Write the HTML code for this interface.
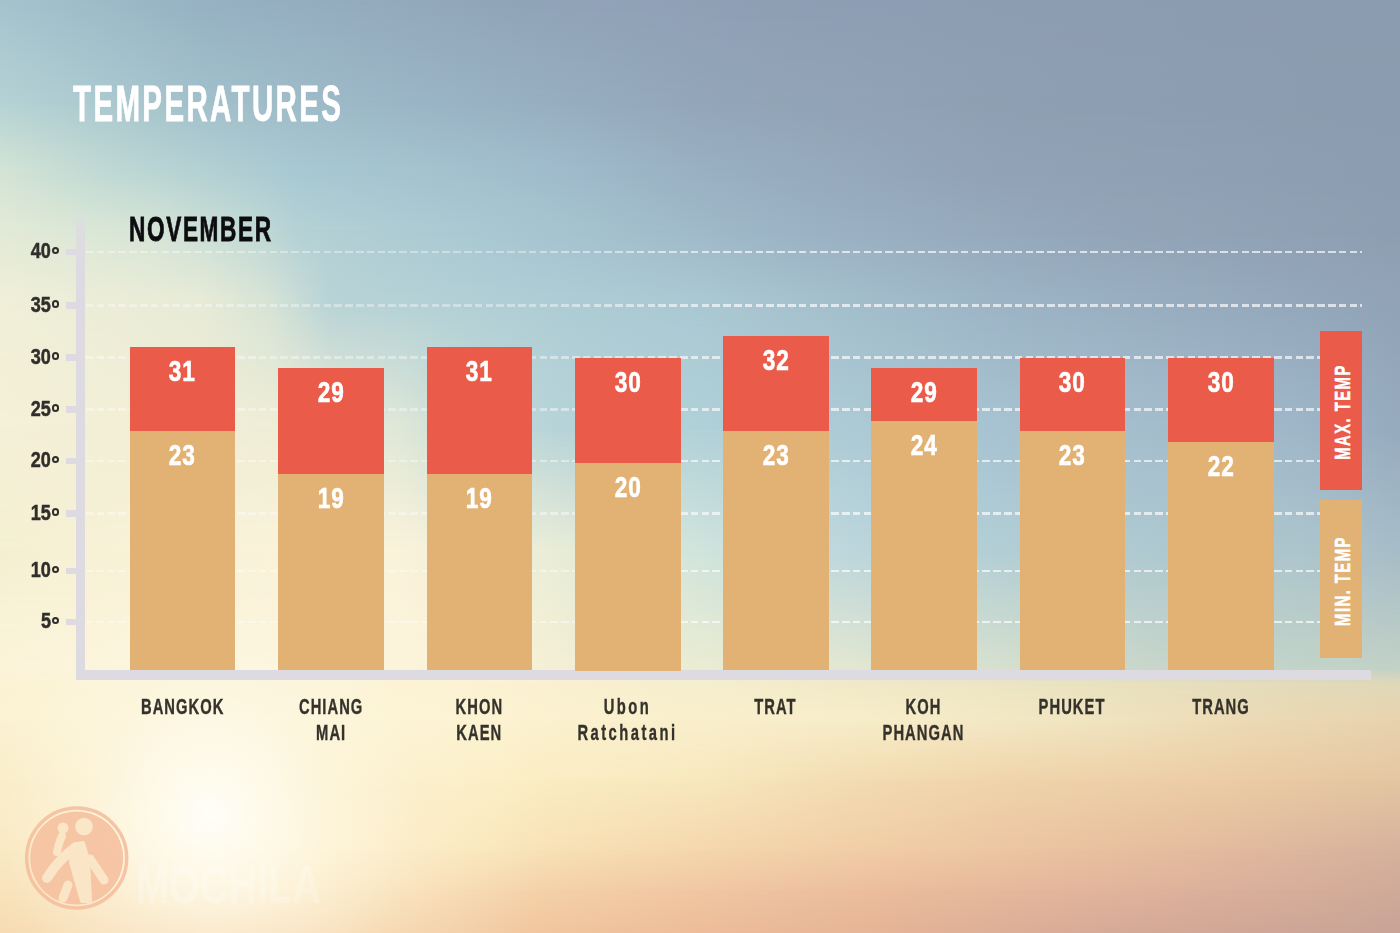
<!DOCTYPE html><html><head><meta charset="utf-8"><style>
html,body{margin:0;padding:0;}
body{width:1400px;height:933px;position:relative;overflow:hidden;font-family:"Liberation Sans",sans-serif;}
.bg{position:absolute;left:0;top:0;width:1400px;height:933px;}
.abs{position:absolute;}
.bar{position:absolute;}
.red{background:#ea5b49;}
.tan{background:#e2b274;}
.val{position:absolute;left:0;width:100%;text-align:center;color:#fff;font-weight:bold;font-size:29px;line-height:29px;-webkit-text-stroke:0.6px #fff;}
.val span{display:inline-block;transform:scaleX(0.78);letter-spacing:1px;}
.grid{position:absolute;left:86px;width:1276px;height:2.5px;-webkit-mask-image:linear-gradient(90deg,rgba(0,0,0,0.55) 0px,rgba(0,0,0,0.55) 420px,#000 650px);background:repeating-linear-gradient(90deg,rgba(255,255,255,0.66) 0 7.6px,transparent 7.6px 10.8px);}
.tick{position:absolute;left:65.5px;width:12px;height:6.5px;background:#dddbe1;}
.ylab{position:absolute;right:1349.5px;color:#2f2e2b;font-weight:bold;font-size:21.5px;line-height:21px;white-space:nowrap;-webkit-text-stroke:0.5px #2f2e2b;}
.ylab span{display:inline-block;transform-origin:100% 0;transform:scaleX(0.84);}
.deg{position:absolute;left:51.8px;width:3.6px;height:3.6px;border:2px solid #2f2e2b;border-radius:50%;}
.xlab{position:absolute;width:200px;text-align:center;color:#35322c;font-weight:bold;font-size:22.5px;line-height:25.5px;-webkit-text-stroke:0.4px #35322c;}
.xlab span{display:inline-block;transform:scaleX(0.655);letter-spacing:1.6px;}
.leg{position:absolute;left:-100px;top:-12px;width:200px;text-align:center;color:#fff;font-weight:bold;font-size:22.5px;line-height:24px;white-space:nowrap;-webkit-text-stroke:0.5px #fff;}
</style></head><body>

<div class="bg"><div style="position:absolute;left:0;top:0px;width:1400px;height:100.5px;background:linear-gradient(90deg,rgb(165, 195, 205) 0px,rgb(150, 178, 195) 200px,rgb(145, 165, 185) 500px,rgb(142, 158, 180) 800px,rgb(140, 155, 175) 1400px)"></div>
<div style="position:absolute;left:0;top:0px;width:1400px;height:100.5px;background:linear-gradient(90deg,rgb(180, 210, 212) 0px,rgb(162, 192, 203) 200px,rgb(153, 179, 196) 450px,rgb(147, 166, 185) 700px,rgb(143, 159, 179) 1000px,rgb(140, 156, 176) 1400px);-webkit-mask-image:linear-gradient(180deg,transparent,#000);mask-image:linear-gradient(180deg,transparent,#000)"></div>
<div style="position:absolute;left:0;top:100px;width:1400px;height:70.5px;background:linear-gradient(90deg,rgb(180, 210, 212) 0px,rgb(162, 192, 203) 200px,rgb(153, 179, 196) 450px,rgb(147, 166, 185) 700px,rgb(143, 159, 179) 1000px,rgb(140, 156, 176) 1400px)"></div>
<div style="position:absolute;left:0;top:100px;width:1400px;height:70.5px;background:linear-gradient(90deg,rgb(212, 228, 212) 0px,rgb(192, 217, 212) 100px,rgb(168, 200, 210) 300px,rgb(160, 188, 204) 550px,rgb(153, 176, 194) 700px,rgb(145, 162, 182) 1000px,rgb(141, 157, 177) 1400px);-webkit-mask-image:linear-gradient(180deg,transparent,#000);mask-image:linear-gradient(180deg,transparent,#000)"></div>
<div style="position:absolute;left:0;top:170px;width:1400px;height:60.5px;background:linear-gradient(90deg,rgb(212, 228, 212) 0px,rgb(192, 217, 212) 100px,rgb(168, 200, 210) 300px,rgb(160, 188, 204) 550px,rgb(153, 176, 194) 700px,rgb(145, 162, 182) 1000px,rgb(141, 157, 177) 1400px)"></div>
<div style="position:absolute;left:0;top:170px;width:1400px;height:60.5px;background:linear-gradient(90deg,rgb(226, 234, 214) 0px,rgb(214, 229, 214) 150px,rgb(194, 218, 214) 250px,rgb(180, 209, 213) 300px,rgb(166, 196, 208) 550px,rgb(155, 178, 196) 800px,rgb(147, 165, 184) 1100px,rgb(142, 158, 178) 1400px);-webkit-mask-image:linear-gradient(180deg,transparent,#000);mask-image:linear-gradient(180deg,transparent,#000)"></div>
<div style="position:absolute;left:0;top:230px;width:1400px;height:70.5px;background:linear-gradient(90deg,rgb(226, 234, 214) 0px,rgb(214, 229, 214) 150px,rgb(194, 218, 214) 250px,rgb(180, 209, 213) 300px,rgb(166, 196, 208) 550px,rgb(155, 178, 196) 800px,rgb(147, 165, 184) 1100px,rgb(142, 158, 178) 1400px)"></div>
<div style="position:absolute;left:0;top:230px;width:1400px;height:70.5px;background:linear-gradient(90deg,rgb(240, 239, 215) 0px,rgb(232, 235, 215) 200px,rgb(214, 227, 214) 270px,rgb(184, 211, 214) 330px,rgb(178, 208, 214) 450px,rgb(170, 200, 210) 700px,rgb(156, 180, 197) 1000px,rgb(145, 163, 183) 1400px);-webkit-mask-image:linear-gradient(180deg,transparent,#000);mask-image:linear-gradient(180deg,transparent,#000)"></div>
<div style="position:absolute;left:0;top:300px;width:1400px;height:125.5px;background:linear-gradient(90deg,rgb(240, 239, 215) 0px,rgb(232, 235, 215) 200px,rgb(214, 227, 214) 270px,rgb(184, 211, 214) 330px,rgb(178, 208, 214) 450px,rgb(170, 200, 210) 700px,rgb(156, 180, 197) 1000px,rgb(145, 163, 183) 1400px)"></div>
<div style="position:absolute;left:0;top:300px;width:1400px;height:125.5px;background:linear-gradient(90deg,rgb(245, 240, 215) 0px,rgb(238, 237, 214) 300px,rgb(222, 231, 215) 400px,rgb(196, 219, 216) 480px,rgb(182, 211, 216) 560px,rgb(176, 208, 216) 700px,rgb(172, 202, 213) 850px,rgb(167, 194, 209) 1000px,rgb(164, 189, 205) 1150px,rgb(158, 182, 200) 1300px,rgb(150, 170, 190) 1400px);-webkit-mask-image:linear-gradient(180deg,transparent,#000);mask-image:linear-gradient(180deg,transparent,#000)"></div>
<div style="position:absolute;left:0;top:425px;width:1400px;height:125.5px;background:linear-gradient(90deg,rgb(245, 240, 215) 0px,rgb(238, 237, 214) 300px,rgb(222, 231, 215) 400px,rgb(196, 219, 216) 480px,rgb(182, 211, 216) 560px,rgb(176, 208, 216) 700px,rgb(172, 202, 213) 850px,rgb(167, 194, 209) 1000px,rgb(164, 189, 205) 1150px,rgb(158, 182, 200) 1300px,rgb(150, 170, 190) 1400px)"></div>
<div style="position:absolute;left:0;top:425px;width:1400px;height:125.5px;background:linear-gradient(90deg,rgb(245, 240, 210) 0px,rgb(250, 242, 218) 400px,rgb(234, 237, 215) 550px,rgb(208, 228, 220) 700px,rgb(188, 214, 220) 850px,rgb(178, 206, 213) 1000px,rgb(174, 201, 208) 1150px,rgb(172, 197, 204) 1300px,rgb(166, 189, 200) 1400px);-webkit-mask-image:linear-gradient(180deg,transparent,#000);mask-image:linear-gradient(180deg,transparent,#000)"></div>
<div style="position:absolute;left:0;top:550px;width:1400px;height:118.5px;background:linear-gradient(90deg,rgb(245, 240, 210) 0px,rgb(250, 242, 218) 400px,rgb(234, 237, 215) 550px,rgb(208, 228, 220) 700px,rgb(188, 214, 220) 850px,rgb(178, 206, 213) 1000px,rgb(174, 201, 208) 1150px,rgb(172, 197, 204) 1300px,rgb(166, 189, 200) 1400px)"></div>
<div style="position:absolute;left:0;top:550px;width:1400px;height:118.5px;background:linear-gradient(90deg,rgb(250, 242, 215) 0px,rgb(250, 242, 215) 500px,rgb(242, 239, 212) 560px,rgb(235, 236, 210) 700px,rgb(226, 231, 209) 850px,rgb(214, 224, 206) 1000px,rgb(200, 214, 202) 1150px,rgb(194, 211, 200) 1300px,rgb(194, 209, 198) 1400px);-webkit-mask-image:linear-gradient(180deg,transparent,#000);mask-image:linear-gradient(180deg,transparent,#000)"></div>
<div style="position:absolute;left:0;top:668px;width:1400px;height:15.5px;background:linear-gradient(90deg,rgb(250, 242, 215) 0px,rgb(250, 242, 215) 500px,rgb(242, 239, 212) 560px,rgb(235, 236, 210) 700px,rgb(226, 231, 209) 850px,rgb(214, 224, 206) 1000px,rgb(200, 214, 202) 1150px,rgb(194, 211, 200) 1300px,rgb(194, 209, 198) 1400px)"></div>
<div style="position:absolute;left:0;top:668px;width:1400px;height:15.5px;background:linear-gradient(90deg,rgb(250, 241, 208) 0px,rgb(251, 242, 210) 500px,rgb(246, 238, 205) 700px,rgb(240, 232, 198) 900px,rgb(232, 224, 190) 1150px,rgb(224, 216, 184) 1400px);-webkit-mask-image:linear-gradient(180deg,transparent,#000);mask-image:linear-gradient(180deg,transparent,#000)"></div>
<div style="position:absolute;left:0;top:683px;width:1400px;height:37.5px;background:linear-gradient(90deg,rgb(250, 241, 208) 0px,rgb(251, 242, 210) 500px,rgb(246, 238, 205) 700px,rgb(240, 232, 198) 900px,rgb(232, 224, 190) 1150px,rgb(224, 216, 184) 1400px)"></div>
<div style="position:absolute;left:0;top:683px;width:1400px;height:37.5px;background:linear-gradient(90deg,rgb(250, 240, 205) 0px,rgb(252, 242, 208) 500px,rgb(246, 236, 200) 900px,rgb(240, 228, 192) 1100px,rgb(236, 218, 181) 1250px,rgb(232, 210, 174) 1400px);-webkit-mask-image:linear-gradient(180deg,transparent,#000);mask-image:linear-gradient(180deg,transparent,#000)"></div>
<div style="position:absolute;left:0;top:720px;width:1400px;height:60.5px;background:linear-gradient(90deg,rgb(250, 240, 205) 0px,rgb(252, 242, 208) 500px,rgb(246, 236, 200) 900px,rgb(240, 228, 192) 1100px,rgb(236, 218, 181) 1250px,rgb(232, 210, 174) 1400px)"></div>
<div style="position:absolute;left:0;top:720px;width:1400px;height:60.5px;background:linear-gradient(90deg,rgb(248, 234, 192) 0px,rgb(251, 238, 196) 500px,rgb(248, 232, 190) 700px,rgb(243, 220, 178) 850px,rgb(240, 212, 170) 1000px,rgb(236, 205, 166) 1200px,rgb(228, 198, 162) 1400px);-webkit-mask-image:linear-gradient(180deg,transparent,#000);mask-image:linear-gradient(180deg,transparent,#000)"></div>
<div style="position:absolute;left:0;top:780px;width:1400px;height:70.5px;background:linear-gradient(90deg,rgb(248, 234, 192) 0px,rgb(251, 238, 196) 500px,rgb(248, 232, 190) 700px,rgb(243, 220, 178) 850px,rgb(240, 212, 170) 1000px,rgb(236, 205, 166) 1200px,rgb(228, 198, 162) 1400px)"></div>
<div style="position:absolute;left:0;top:780px;width:1400px;height:70.5px;background:linear-gradient(90deg,rgb(247, 228, 184) 0px,rgb(251, 236, 195) 300px,rgb(249, 228, 184) 500px,rgb(245, 215, 172) 700px,rgb(240, 203, 164) 900px,rgb(228, 187, 158) 1200px,rgb(214, 177, 156) 1400px);-webkit-mask-image:linear-gradient(180deg,transparent,#000);mask-image:linear-gradient(180deg,transparent,#000)"></div>
<div style="position:absolute;left:0;top:850px;width:1400px;height:40.5px;background:linear-gradient(90deg,rgb(247, 228, 184) 0px,rgb(251, 236, 195) 300px,rgb(249, 228, 184) 500px,rgb(245, 215, 172) 700px,rgb(240, 203, 164) 900px,rgb(228, 187, 158) 1200px,rgb(214, 177, 156) 1400px)"></div>
<div style="position:absolute;left:0;top:850px;width:1400px;height:40.5px;background:linear-gradient(90deg,rgb(246, 220, 176) 0px,rgb(249, 228, 185) 300px,rgb(245, 212, 170) 500px,rgb(240, 199, 162) 700px,rgb(234, 188, 157) 900px,rgb(220, 177, 155) 1200px,rgb(208, 170, 153) 1400px);-webkit-mask-image:linear-gradient(180deg,transparent,#000);mask-image:linear-gradient(180deg,transparent,#000)"></div>
<div style="position:absolute;left:0;top:890px;width:1400px;height:43.5px;background:linear-gradient(90deg,rgb(246, 220, 176) 0px,rgb(249, 228, 185) 300px,rgb(245, 212, 170) 500px,rgb(240, 199, 162) 700px,rgb(234, 188, 157) 900px,rgb(220, 177, 155) 1200px,rgb(208, 170, 153) 1400px)"></div>
<div style="position:absolute;left:0;top:890px;width:1400px;height:43.5px;background:linear-gradient(90deg,rgb(245, 212, 166) 0px,rgb(245, 212, 168) 300px,rgb(241, 200, 160) 500px,rgb(237, 188, 152) 700px,rgb(228, 178, 150) 900px,rgb(214, 170, 150) 1100px,rgb(200, 163, 150) 1400px);-webkit-mask-image:linear-gradient(180deg,transparent,#000);mask-image:linear-gradient(180deg,transparent,#000)"></div>
<div style="position:absolute;left:0;top:0;width:1400px;height:933px;background:radial-gradient(circle 360px at 210px 815px, rgba(255,254,248,1) 0px, rgba(255,253,242,0.85) 50px, rgba(255,251,236,0.55) 120px, rgba(255,249,230,0.25) 210px, rgba(255,248,225,0) 340px)"></div></div>
<div class="grid" style="top:250.75px"></div>
<div class="tick" style="top:248.75px"></div>
<div class="ylab" style="top:241px"><span>40</span></div>
<div class="deg" style="top:246.5px"></div>
<div class="grid" style="top:304.25px"></div>
<div class="tick" style="top:302.25px"></div>
<div class="ylab" style="top:294.5px"><span>35</span></div>
<div class="deg" style="top:300.0px"></div>
<div class="grid" style="top:356.25px"></div>
<div class="tick" style="top:354.25px"></div>
<div class="ylab" style="top:346.5px"><span>30</span></div>
<div class="deg" style="top:352.0px"></div>
<div class="grid" style="top:408.35px"></div>
<div class="tick" style="top:406.35px"></div>
<div class="ylab" style="top:398.6px"><span>25</span></div>
<div class="deg" style="top:404.1px"></div>
<div class="grid" style="top:459.75px"></div>
<div class="tick" style="top:457.75px"></div>
<div class="ylab" style="top:450px"><span>20</span></div>
<div class="deg" style="top:455.5px"></div>
<div class="grid" style="top:512.45px"></div>
<div class="tick" style="top:510.45000000000005px"></div>
<div class="ylab" style="top:502.70000000000005px"><span>15</span></div>
<div class="deg" style="top:508.20000000000005px"></div>
<div class="grid" style="top:569.95px"></div>
<div class="tick" style="top:567.95px"></div>
<div class="ylab" style="top:560.2px"><span>10</span></div>
<div class="deg" style="top:565.7px"></div>
<div class="grid" style="top:620.95px"></div>
<div class="tick" style="top:618.95px"></div>
<div class="ylab" style="top:611.2px"><span>5</span></div>
<div class="deg" style="top:616.7px"></div>
<div class="abs" style="left:75.6px;top:206px;width:9.8px;height:474px;background:linear-gradient(180deg,rgba(221,219,225,0) 0px,rgba(221,219,225,0.8) 25px,#dddbe1 50px)"></div>
<div class="abs" style="left:75.6px;top:670.3px;width:1295.7px;height:9.6px;background:#dddbe1"></div>
<div class="bar red" style="left:129.5px;top:346.95px;width:105.5px;height:84.40000000000003px"><div class="val" style="top:10px"><span>31</span></div></div>
<div class="bar tan" style="left:129.5px;top:431.35px;width:105.5px;height:239.14999999999998px"><div class="val" style="top:10px"><span>23</span></div></div>
<div class="xlab" style="left:82.25px;top:694px"><span style="">BANGKOK</span></div>
<div class="bar red" style="left:278px;top:368.05px;width:105.5px;height:105.5px"><div class="val" style="top:10px"><span>29</span></div></div>
<div class="bar tan" style="left:278px;top:473.55px;width:105.5px;height:196.95px"><div class="val" style="top:10px"><span>19</span></div></div>
<div class="xlab" style="left:230.75px;top:694px"><span style="">CHIANG<br>MAI</span></div>
<div class="bar red" style="left:426.5px;top:346.95px;width:105.5px;height:126.60000000000002px"><div class="val" style="top:10px"><span>31</span></div></div>
<div class="bar tan" style="left:426.5px;top:473.55px;width:105.5px;height:196.95px"><div class="val" style="top:10px"><span>19</span></div></div>
<div class="xlab" style="left:379.25px;top:694px"><span style="">KHON<br>KAEN</span></div>
<div class="bar red" style="left:575px;top:357.5px;width:105.5px;height:105.5px"><div class="val" style="top:10px"><span>30</span></div></div>
<div class="bar tan" style="left:575px;top:463.0px;width:105.5px;height:207.5px"><div class="val" style="top:10px"><span>20</span></div></div>
<div class="xlab" style="left:527.75px;top:694px"><span style=";letter-spacing:3.8px">Ubon<br>Ratchatani</span></div>
<div class="bar red" style="left:723px;top:336.4px;width:105.5px;height:94.95000000000005px"><div class="val" style="top:10px"><span>32</span></div></div>
<div class="bar tan" style="left:723px;top:431.35px;width:105.5px;height:239.14999999999998px"><div class="val" style="top:10px"><span>23</span></div></div>
<div class="xlab" style="left:675.75px;top:694px"><span style="">TRAT</span></div>
<div class="bar red" style="left:871px;top:368.05px;width:105.5px;height:52.75px"><div class="val" style="top:10px"><span>29</span></div></div>
<div class="bar tan" style="left:871px;top:420.8px;width:105.5px;height:249.7px"><div class="val" style="top:10px"><span>24</span></div></div>
<div class="xlab" style="left:823.75px;top:694px"><span style="">KOH<br>PHANGAN</span></div>
<div class="bar red" style="left:1019.5px;top:357.5px;width:105.5px;height:73.85000000000002px"><div class="val" style="top:10px"><span>30</span></div></div>
<div class="bar tan" style="left:1019.5px;top:431.35px;width:105.5px;height:239.14999999999998px"><div class="val" style="top:10px"><span>23</span></div></div>
<div class="xlab" style="left:972.25px;top:694px"><span style="">PHUKET</span></div>
<div class="bar red" style="left:1168px;top:357.5px;width:105.5px;height:84.39999999999998px"><div class="val" style="top:10px"><span>30</span></div></div>
<div class="bar tan" style="left:1168px;top:441.9px;width:105.5px;height:228.60000000000002px"><div class="val" style="top:10px"><span>22</span></div></div>
<div class="xlab" style="left:1120.75px;top:694px"><span style="">TRANG</span></div>
<div class="abs red" style="left:1320px;top:331.3px;width:42px;height:158.7px"></div>
<div class="abs tan" style="left:1320px;top:500.3px;width:42px;height:158px"></div>
<div class="abs" style="left:1343px;top:412px;width:0;height:0"><div class="leg" style="transform:rotate(-90deg) scaleX(0.66)"><span style="letter-spacing:2.2px">MAX. TEMP</span></div></div>
<div class="abs" style="left:1343px;top:580.6px;width:0;height:0"><div class="leg" style="transform:rotate(-90deg) scaleX(0.66)"><span style="letter-spacing:2.2px">MIN. TEMP</span></div></div>
<div class="abs" style="left:73px;top:78.5px;color:#fff;font-weight:bold;font-size:50px;line-height:50px;white-space:nowrap;-webkit-text-stroke:0.8px #fff"><span style="display:inline-block;transform-origin:0 0;transform:scaleX(0.59);letter-spacing:4px">TEMPERATURES</span></div>
<div class="abs" style="left:129px;top:211.5px;color:#0d0d10;font-weight:bold;font-size:34.5px;line-height:34.5px;white-space:nowrap"><span style="display:inline-block;transform-origin:0 0;transform:scaleX(0.655);letter-spacing:2.5px;-webkit-text-stroke:0.8px #0d0d10">NOVEMBER</span></div>
<svg class="abs" style="left:0;top:780px" width="360" height="153" viewBox="0 780 360 153">
<g opacity="0.9">
<circle cx="76.7" cy="858" r="50" fill="none" stroke="#f6bf9f" stroke-width="3.5"/>
<circle cx="76.7" cy="858" r="46.5" fill="#f6c1a0"/>
<g fill="none" stroke="#fae6c6" stroke-linecap="round" stroke-linejoin="round">
<circle cx="84" cy="826.5" r="8.8" fill="#fae6c6" stroke="none"/>
<path d="M76 847 Q58 860 47 878" stroke-width="10"/>
<path d="M73 845 L83 843 L88 860 L89 880 L90 901 L82 901 L76 880 L71 862 Z" fill="#fae6c6" stroke-width="4"/>
<path d="M68 885 L63 898" stroke-width="9"/>
<path d="M90 859 L104 880" stroke-width="9"/>
<circle cx="63" cy="828" r="5.5" fill="#fae6c6" stroke="none"/>
<path d="M62 836 Q58 845 57 852" stroke-width="8"/>
</g></g>
<text x="136" y="903" font-family="Liberation Sans" font-weight="bold" font-size="53" fill="#ffffff" fill-opacity="0.26" textLength="185" lengthAdjust="spacingAndGlyphs">MOCHILA</text>
</svg>
</body></html>
